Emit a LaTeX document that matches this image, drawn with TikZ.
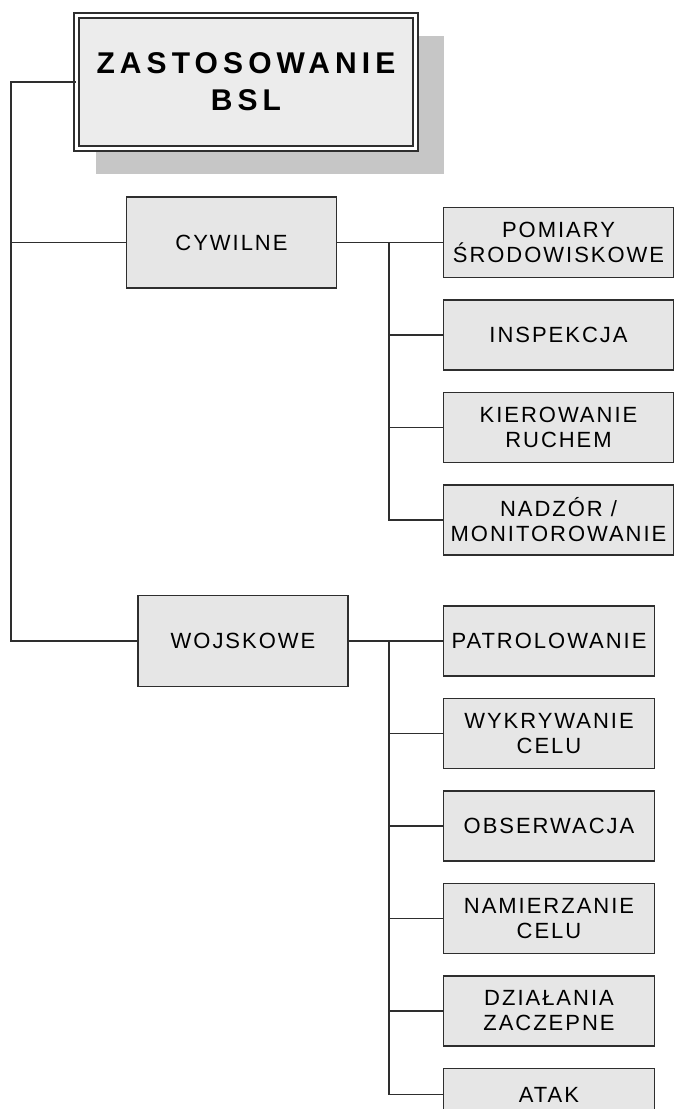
\documentclass[tikz,border=0pt]{standalone}
\usepackage{fontspec}
\setmainfont{Liberation Sans}
\newfontfamily\boxfont[LetterSpace=9]{Liberation Sans}
\newfontfamily\titlefont[LetterSpace=17]{Liberation Sans}
\usetikzlibrary{positioning, backgrounds}
\definecolor{boxgray}{HTML}{E6E6E6}
\definecolor{titlegray}{HTML}{ECECEC}
\definecolor{shadowgray}{HTML}{C6C6C6}
\definecolor{linedark}{HTML}{2E2E2E}

\begin{document}
\begin{tikzpicture}[
  x=1pt, y=-1pt,
  node distance=21pt,
  box/.style={draw=linedark, fill=boxgray, line width=1.5pt, align=center,
              inner sep=0pt, font=\boxfont\fontsize{22}{25}\selectfont},
  mainbox/.style={box, minimum width=210pt, minimum height=91pt},
  leafbox/.style={box, minimum width=230pt, minimum height=70pt},
  milbox/.style={leafbox, minimum width=211pt},
  topbox/.style={box, fill=titlegray, double=white, double distance=3.5pt,
                 minimum width=339pt, minimum height=133pt,
                 font=\titlefont\bfseries\fontsize{30}{37}\selectfont},
  link/.style={draw=linedark, line width=1.5pt}
]
\useasboundingbox (0,0) rectangle (675,1109);

% ---------------- Root ----------------
\node[topbox] (title) at (246,82) {ZASTOSOWANIE\\BSL};

% ---------------- Main branches ----------------
\node[mainbox] (cyw) at (231.5,242.5) {CYWILNE};
\node[mainbox] (woj) at (243,641) {WOJSKOWE};

% ---------------- Civil uses ----------------
\node[leafbox] (pom) at (558.5,242.5) {POMIARY\\ŚRODOWISKOWE};
\node[leafbox, below=of pom] (insp) {INSPEKCJA};
\node[leafbox, below=of insp] (kier) {KIEROWANIE\\RUCHEM};
\node[leafbox, below=of kier] (nad) {NADZÓR /\\MONITOROWANIE};

% ---------------- Military uses ----------------
\node[milbox] (pat) at (549,641) {PATROLOWANIE};
\node[milbox, below=of pat] (wyk) {WYKRYWANIE\\CELU};
\node[milbox, below=of wyk] (obs) {OBSERWACJA};
\node[milbox, below=of obs] (nam) {NAMIERZANIE\\CELU};
\node[milbox, below=of nam] (dzi) {DZIAŁANIA\\ZACZEPNE};
\node[milbox, below=of dzi, minimum height=52pt] (atak) {ATAK};

% shadow of the root box
\begin{scope}[on background layer]
  \fill[shadowgray] ([shift={(20,21)}]title.north west)
                    rectangle ([shift={(28,25)}]title.south east);
\end{scope}

% ---------------- Connectors ----------------
\coordinate (trunk) at (11,82);
\coordinate (cjoin) at (389,242.5);
\coordinate (mjoin) at (389,641);

\draw[link] (title.west) -- (trunk) |- (woj.west);
\draw[link] (trunk |- cyw.west) -- (cyw.west);

\draw[link] (cyw.east) -- (pom.west);
\draw[link] (cjoin) |- (nad.west);
\foreach \n in {insp,kier}
  \draw[link] (cjoin |- \n.west) -- (\n.west);

\draw[link] (woj.east) -- (pat.west);
\draw[link] (mjoin) |- (atak.west);
\foreach \n in {wyk,obs,nam,dzi}
  \draw[link] (mjoin |- \n.west) -- (\n.west);

\end{tikzpicture}
\end{document}
